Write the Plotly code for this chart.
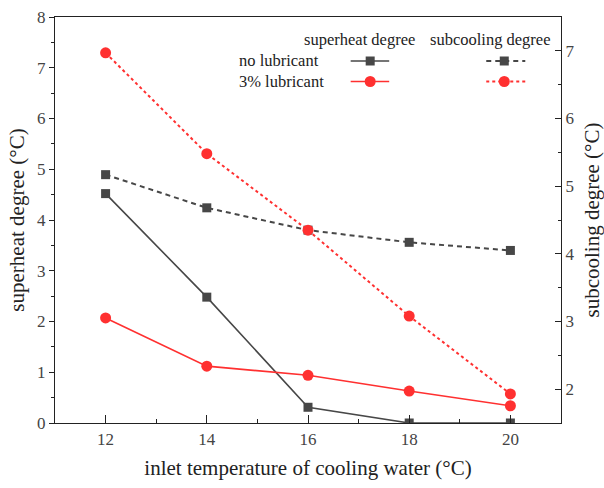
import plotly.graph_objects as go

temps = [12, 14, 16, 18, 20]
superheat_none = [4.52, 2.48, 0.31, 0.0, 0.0]
superheat_3pct = [2.07, 1.12, 0.94, 0.63, 0.34]
subcool_none = [5.17, 4.68, 4.35, 4.17, 4.05]
subcool_3pct = [6.97, 5.48, 4.35, 3.08, 1.93]

GRAY = "#474747"
RED = "#ff3030"
FONT = "Liberation Serif"

fig = go.Figure()
fig.add_trace(go.Scatter(x=temps, y=superheat_none, mode="lines+markers",
                         line=dict(color=GRAY, width=1.6),
                         marker=dict(symbol="square", size=9, color=GRAY),
                         name="no lubricant superheat", showlegend=False))
fig.add_trace(go.Scatter(x=temps, y=superheat_3pct, mode="lines+markers",
                         line=dict(color=RED, width=1.6),
                         marker=dict(symbol="circle", size=11, color=RED),
                         name="3% lubricant superheat", showlegend=False))
fig.add_trace(go.Scatter(x=temps, y=subcool_none, mode="lines+markers", yaxis="y2",
                         line=dict(color=GRAY, width=2, dash="5px,4px"),
                         marker=dict(symbol="square", size=9, color=GRAY),
                         name="no lubricant subcooling", showlegend=False))
fig.add_trace(go.Scatter(x=temps, y=subcool_3pct, mode="lines+markers", yaxis="y2",
                         line=dict(color=RED, width=2, dash="3px,3px"),
                         marker=dict(symbol="circle", size=11, color=RED),
                         name="3% lubricant subcooling", showlegend=False))

# plot area in pixels
L, R, T, B = 55, 560.7, 17, 423
W, H = R - L, B - T
def px(x):
    return (x - L) / W
def py(y):
    return (B - y) / H

shapes = []
annotations = []
LEG = 16.5
# legend headers
annotations.append(dict(text="superheat degree", x=px(359), y=py(40), xref="paper", yref="paper",
                        showarrow=False, xanchor="center", yanchor="middle",
                        font=dict(family=FONT, size=LEG, color="#222")))
annotations.append(dict(text="subcooling degree", x=px(490.5), y=py(40), xref="paper", yref="paper",
                        showarrow=False, xanchor="center", yanchor="middle",
                        font=dict(family=FONT, size=LEG, color="#222")))
for label, yrow in [("no lubricant", 61), ("3% lubricant", 81.5)]:
    annotations.append(dict(text=label, x=px(237), y=py(yrow), xref="paper", yref="paper",
                            showarrow=False, xanchor="left", yanchor="middle",
                            font=dict(family=FONT, size=LEG, color="#222")))
# legend glyphs
def glyph(yrow, color, symbol, x0, x1, xm, dash):
    shapes.append(dict(type="line", xref="paper", yref="paper", x0=px(x0), x1=px(x1),
                       y0=py(yrow), y1=py(yrow), line=dict(color=color, width=2 if dash else 1.6, dash=dash)))
    r = 4.5 if symbol == "square" else 5.5
    shapes.append(dict(type="rect" if symbol == "square" else "circle", xref="paper", yref="paper",
                       x0=px(xm - r), x1=px(xm + r), y0=py(yrow + r), y1=py(yrow - r),
                       fillcolor=color, line=dict(color=color, width=0)))
glyph(61, GRAY, "square", 350.5, 389, 370, None)
glyph(81.5, RED, "circle", 350.5, 389, 370, None)
glyph(61, GRAY, "square", 486, 525, 504, "5px,4px")
glyph(81.5, RED, "circle", 486, 525, 504, "3px,3px")

axis_common = dict(showline=True, linecolor="#222", linewidth=1.3, showgrid=False, zeroline=False,
                   tickfont=dict(family=FONT, size=17, color="#444"), tickcolor="#222",
                   automargin=False)
TITLE = dict(family=FONT, size=21, color="#222")

fig.update_layout(
    width=604, height=488,
    margin=dict(l=L, r=604 - R, t=T, b=488 - B),
    paper_bgcolor="white", plot_bgcolor="white",
    font=dict(family=FONT, color="#222"),
    xaxis=dict(**axis_common, range=[11, 21], tickvals=temps, ticks="inside", ticklen=8,
               minor=dict(dtick=1, tick0=11, ticks="inside", ticklen=4, tickcolor="#222"),
               mirror=True,
               title=dict(text="inlet temperature of cooling water (°C)", standoff=12, font=TITLE)),
    yaxis=dict(**axis_common, ticks="outside",
               range=[0, 8], dtick=1, ticklen=5,
               minor=dict(dtick=0.5, ticks="outside", ticklen=3, tickcolor="#222"),
               title=dict(text="superheat degree (°C)", standoff=6, font=TITLE)),
    yaxis2=dict(**axis_common, ticks="inside",
                overlaying="y", side="right", range=[1.5, 7.5], dtick=1, tick0=2,
                ticklen=6,
                minor=dict(dtick=0.5, ticks="inside", ticklen=3, tickcolor="#222"),
                title=dict(text="subcooling degree (°C)", standoff=13, font=TITLE)),
    shapes=shapes, annotations=annotations,
)

fig.write_html("out.html", config={"displayModeBar": False},
               post_script="document.body.style.margin='0';document.body.style.overflow='hidden';")
